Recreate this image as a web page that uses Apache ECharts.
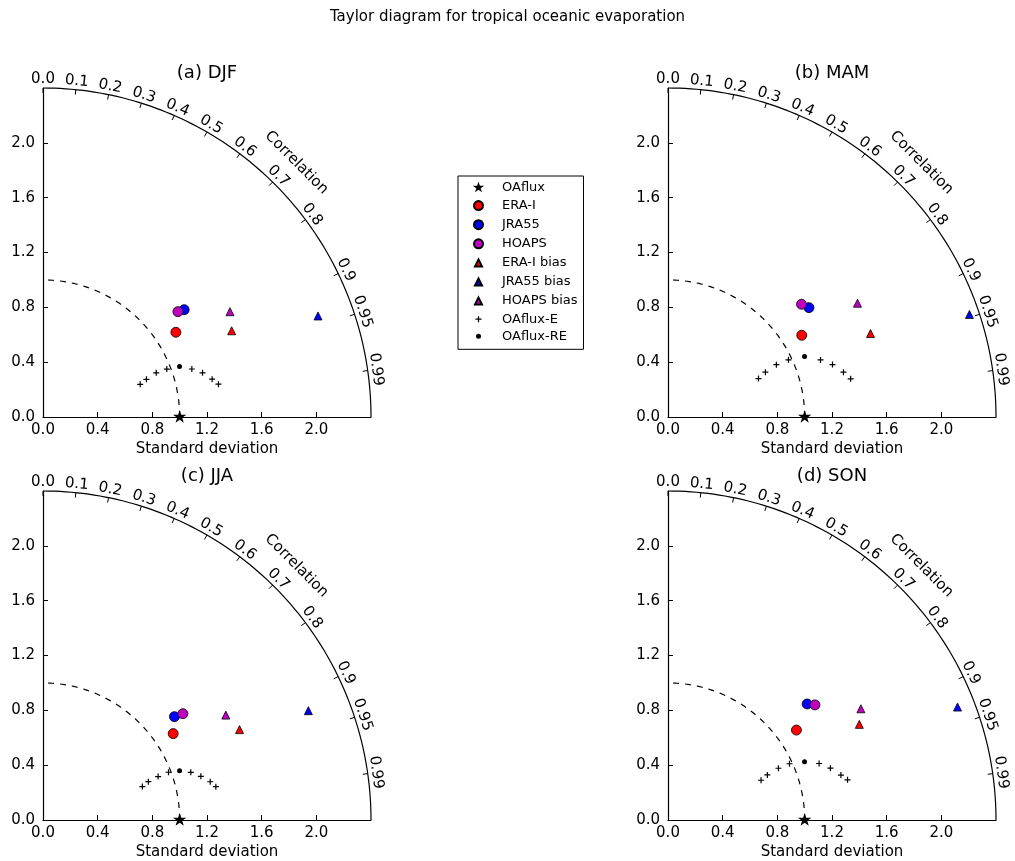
<!DOCTYPE html>
<html>
<head>
<meta charset="utf-8">
<title>Taylor diagram for tropical oceanic evaporation</title>
<script src="https://cdn.jsdelivr.net/npm/echarts@6.0.0/dist/echarts.min.js"></script>
<style>
  html, body { margin: 0; padding: 0; background: #fff; }
  #chart { width: 1015px; height: 861px; }
</style>
</head>
<body>
<div id="chart"></div>
<script>
const seasons = ['(a) DJF', '(b) MAM', '(c) JJA', '(d) SON']

// normalised standard deviation and correlation vs OAflux, one value per season
const eraStd = [1.152, 1.146, 1.142, 1.146]
const eraCorr = [0.844, 0.854, 0.834, 0.820]
const jraStd = [1.296, 1.304, 1.222, 1.324]
const jraCorr = [0.797, 0.791, 0.787, 0.769]
const hoapsStd = [1.251, 1.277, 1.284, 1.364]
const hoapsCorr = [0.789, 0.765, 0.797, 0.788]
const eraBiasStd = [1.517, 1.602, 1.582, 1.564]
const eraBiasCorr = [0.910, 0.925, 0.909, 0.895]
const jraBiasStd = [2.143, 2.329, 2.099, 2.273]
const jraBiasCorr = [0.939, 0.947, 0.925, 0.932]
const hoapsBiasStd = [1.569, 1.616, 1.541, 1.628]
const hoapsBiasCorr = [0.872, 0.858, 0.868, 0.867]
const reStd = [1.065, 1.092, 1.062, 1.086]
const reCorr = [0.938, 0.915, 0.941, 0.920]
// OAflux-E members, per season
const eStd = [
  [0.750, 0.805, 0.889, 0.971, 1.144, 1.211, 1.268, 1.306],
  [0.719, 0.784, 0.880, 0.975, 1.191, 1.263, 1.325, 1.365],
  [0.767, 0.820, 0.900, 0.982, 1.136, 1.198, 1.255, 1.288],
  [0.740, 0.798, 0.892, 0.979, 1.180, 1.247, 1.307, 1.346]
]
const eCorr = [
  [0.948, 0.940, 0.932, 0.933, 0.952, 0.964, 0.976, 0.983],
  [0.921, 0.909, 0.901, 0.904, 0.937, 0.953, 0.969, 0.979],
  [0.948, 0.940, 0.936, 0.935, 0.952, 0.964, 0.975, 0.982],
  [0.920, 0.911, 0.906, 0.908, 0.937, 0.953, 0.968, 0.976]
]
const refStd = 1.0

const corrTicks = [0, 0.1, 0.2, 0.3, 0.4, 0.5, 0.6, 0.7, 0.8, 0.9, 0.95, 0.99]
const corrLabels = ['0.0', '0.1', '0.2', '0.3', '0.4', '0.5', '0.6', '0.7', '0.8', '0.9', '0.95', '0.99']
const stdMax = 2.4
const stdStep = 0.4

const FONT = 'DejaVu Sans'
const gridLeft = [43, 668, 43, 668]
const gridTop = [88, 88, 491, 491]
const gridW = 328
const gridH = 329

// plot markers
const starPath = 'path://M0,0 M14,14 M7,0 L8.57,4.84 L13.66,4.84 L9.54,7.83 L11.11,12.66 L7,9.67 L2.89,12.66 L4.46,7.83 L0.34,4.84 L5.43,4.84 Z'
const plusPath = 'path://M0,2.4 H6 V3.6 H0 Z M2.4,0 H3.6 V6 H2.4 Z'

// legend icons, drawn in the middle of a 37x14 box (zero-length corner segments fix the box)
const box = 'M0,0 L0,0 M37,14 L37,14 '
const lgStar = 'path://' + box + 'M18.5,1 L19.85,5.15 L24.21,5.15 L20.68,7.71 L22.03,11.85 L18.5,9.29 L14.97,11.85 L16.32,7.71 L12.79,5.15 L17.15,5.15 Z'
const lgCircle = 'path://' + box + 'M14,7 A4.5,4.5 0 1,1 23,7 A4.5,4.5 0 1,1 14,7 Z'
const lgTri = 'path://' + box + 'M18.5,3.5 L22,10.5 L15,10.5 Z'
const lgPlus = 'path://' + box + 'M15.5,6.4 H21.5 V7.6 H15.5 Z M17.9,4 H19.1 V10 H17.9 Z'
const lgDot = 'path://' + box + 'M16,7 A2.5,2.5 0 1,1 21,7 A2.5,2.5 0 1,1 16,7 Z'

const legendNames = ['OAflux', 'ERA-I', 'JRA55', 'HOAPS', 'ERA-I bias', 'JRA55 bias', 'HOAPS bias', 'OAflux-E', 'OAflux-RE']
const legendIcons = [lgStar, lgCircle, lgCircle, lgCircle, lgTri, lgTri, lgTri, lgPlus, lgDot]

function toXY(std, corr) {
  return [std * corr, std * Math.sqrt(1 - corr * corr)]
}

function renderFrame(params, api) {
  const els = []
  const arc = []
  const ref = []
  for (let d = 0; d <= 90; d++) {
    const t = d * Math.PI / 180
    arc.push(api.coord([stdMax * Math.cos(t), stdMax * Math.sin(t)]))
    ref.push(api.coord([refStd * Math.cos(t), refStd * Math.sin(t)]))
  }
  els.push({ type: 'polyline', shape: { points: arc }, style: { stroke: '#000', lineWidth: 1.2, fill: null } })
  els.push({ type: 'polyline', shape: { points: ref }, style: { stroke: '#000', lineWidth: 1.2, lineDash: [6, 6], fill: null } })
  corrTicks.forEach((c, i) => {
    const t = Math.acos(c)
    const ux = Math.cos(t)
    const uy = -Math.sin(t)
    const p = api.coord([stdMax * c, stdMax * Math.sin(t)])
    els.push({
      type: 'line',
      shape: { x1: p[0], y1: p[1], x2: p[0] - ux * 5, y2: p[1] - uy * 5 },
      style: { stroke: '#000', lineWidth: 1 }
    })
    els.push({
      type: 'text',
      x: p[0] + ux * 8.5,
      y: p[1] + uy * 8.5,
      rotation: t - Math.PI / 2,
      style: { text: corrLabels[i], fill: '#000', fontSize: 15, fontFamily: FONT, align: 'center', verticalAlign: 'middle' }
    })
  })
  const t = Math.PI / 4
  const p = api.coord([stdMax * Math.cos(t), stdMax * Math.sin(t)])
  els.push({
    type: 'text',
    x: p[0] + Math.cos(t) * 30.5,
    y: p[1] - Math.sin(t) * 30.5,
    rotation: -t,
    style: { text: 'Correlation', fill: '#000', fontSize: 15, fontFamily: FONT, align: 'center', verticalAlign: 'middle' }
  })
  return { type: 'group', children: els }
}

const chart = echarts.init(document.getElementById('chart'))

const grids = []
const xAxes = []
const yAxes = []
const series = []
const titles = [{
  text: 'Taylor diagram for tropical oceanic evaporation',
  left: 'center',
  top: 10,
  padding: 0,
  textStyle: { fontSize: 15, fontWeight: 'normal', color: '#000', fontFamily: FONT }
}]

const axisCommon = {
  type: 'value',
  min: 0,
  max: stdMax,
  interval: stdStep,
  splitLine: { show: false },
  axisLine: { lineStyle: { color: '#000', width: 1.2 } },
  axisTick: { inside: true, length: 5, lineStyle: { color: '#000' } },
  axisLabel: { showMaxLabel: false, color: '#000', fontSize: 15, fontFamily: FONT, formatter: v => v.toFixed(1) }
}

seasons.forEach((s, i) => {
  grids.push({ left: gridLeft[i], top: gridTop[i], width: gridW, height: gridH })
  xAxes.push(Object.assign({}, axisCommon, {
    gridIndex: i,
    axisLabel: Object.assign({}, axisCommon.axisLabel, { margin: 6 }),
    name: 'Standard deviation',
    nameLocation: 'middle',
    nameGap: 25,
    nameTextStyle: { color: '#000', fontSize: 15, fontFamily: FONT }
  }))
  yAxes.push(Object.assign({}, axisCommon, {
    gridIndex: i,
    axisLabel: Object.assign({}, axisCommon.axisLabel, { margin: 8 })
  }))
  titles.push({
    text: s,
    left: gridLeft[i] + gridW / 2,
    top: gridTop[i] - 24,
    textAlign: 'center',
    padding: 0,
    textStyle: { fontSize: 18, fontWeight: 'normal', color: '#000', fontFamily: FONT }
  })

  series.push({
    type: 'custom',
    xAxisIndex: i,
    yAxisIndex: i,
    clip: false,
    silent: true,
    data: [[0, 0]],
    renderItem: renderFrame
  })

  const mk = (name, data, symbol, size, color, border) => ({
    type: 'scatter',
    name: name,
    xAxisIndex: i,
    yAxisIndex: i,
    symbol: symbol,
    symbolSize: size,
    silent: true,
    data: data,
    itemStyle: { color: color, borderColor: '#000', borderWidth: border, opacity: 1 }
  })

  series.push(mk('OAflux', [toXY(refStd, 1)], starPath, 14, '#000', 0))
  series.push(mk('ERA-I', [toXY(eraStd[i], eraCorr[i])], 'circle', 10, '#ff0000', 0.8))
  series.push(mk('JRA55', [toXY(jraStd[i], jraCorr[i])], 'circle', 10, '#0000ff', 0.8))
  series.push(mk('HOAPS', [toXY(hoapsStd[i], hoapsCorr[i])], 'circle', 10, '#bf00bf', 0.8))
  series.push(mk('ERA-I bias', [toXY(eraBiasStd[i], eraBiasCorr[i])], 'triangle', 8, '#ff0000', 0.8))
  series.push(mk('JRA55 bias', [toXY(jraBiasStd[i], jraBiasCorr[i])], 'triangle', 8, '#0000ff', 0.8))
  series.push(mk('HOAPS bias', [toXY(hoapsBiasStd[i], hoapsBiasCorr[i])], 'triangle', 8, '#bf00bf', 0.8))
  series.push(mk('OAflux-E', eStd[i].map((v, k) => toXY(v, eCorr[i][k])), plusPath, 6, '#000', 0))
  series.push(mk('OAflux-RE', [toXY(reStd[i], reCorr[i])], 'circle', 5, '#000', 0))
})

chart.setOption({
  animation: false,
  textStyle: { fontFamily: FONT, color: '#000' },
  title: titles,
  legend: {
    orient: 'vertical',
    left: 458,
    top: 176,
    itemWidth: 37,
    itemHeight: 14,
    itemGap: 3.1,
    padding: [4.5, 6, 6, 1],
    borderColor: '#000',
    borderWidth: 1,
    selectedMode: false,
    textStyle: { fontSize: 13, lineHeight: 14, color: '#000', fontFamily: FONT },
    data: legendNames.map((n, k) => ({ name: n, icon: legendIcons[k] }))
  },
  grid: grids,
  xAxis: xAxes,
  yAxis: yAxes,
  series: series
})
</script>
</body>
</html>
